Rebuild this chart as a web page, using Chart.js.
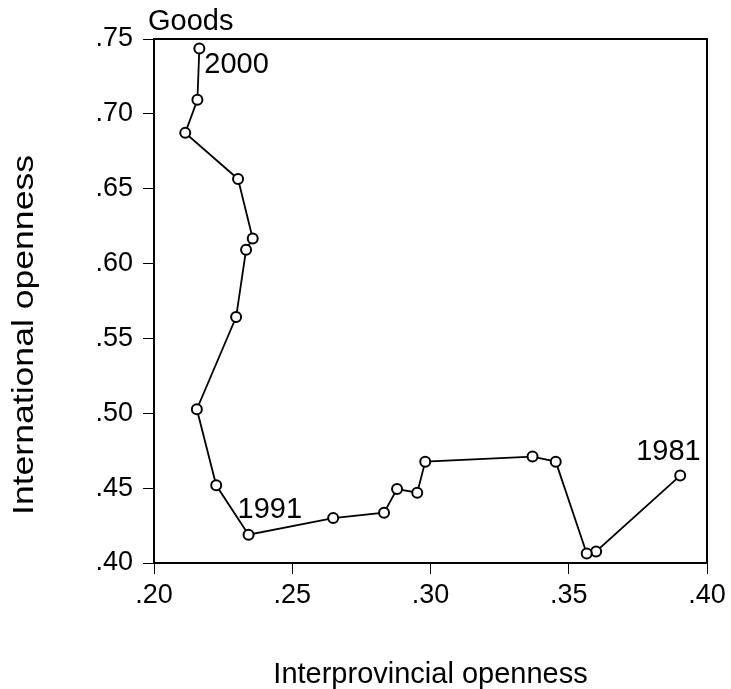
<!DOCTYPE html>
<html>
<head>
<meta charset="utf-8">
<script src="https://cdn.jsdelivr.net/npm/chart.js@4/dist/chart.umd.min.js"></script>
<style>
  html, body { margin: 0; padding: 0; background: #ffffff; }
  #wrap { width: 731px; height: 689px; }
</style>
</head>
<body>
<div id="wrap"><canvas id="c" width="731" height="689"></canvas></div>
<script>
// ---- data ----
const years = ['1981','1982','1983','1984','1985','1986','1987','1988','1989','1990',
               '1991','1992','1993','1994','1995','1996','1997','1998','1999','2000'];
const interprovincial = [0.3903, 0.3599, 0.3565, 0.3453, 0.3369, 0.2981, 0.2952, 0.2879, 0.2832, 0.2648,
                         0.2342, 0.2225, 0.2155, 0.2297, 0.2333, 0.2357, 0.2304, 0.2113, 0.2157, 0.2164];
const international   = [0.4584, 0.4077, 0.4064, 0.4677, 0.4711, 0.4677, 0.4470, 0.4494, 0.4336, 0.4300,
                         0.4189, 0.4519, 0.5027, 0.5643, 0.6092, 0.6167, 0.6565, 0.6873, 0.7094, 0.7437];
const labelledYears = ['1981', '1991', '2000'];
const panelTitle = 'Goods';
const xTitle = 'Interprovincial openness';
const yTitle = 'International openness';
const xTicks = [0.20, 0.25, 0.30, 0.35, 0.40];
const yTicks = [0.40, 0.45, 0.50, 0.55, 0.60, 0.65, 0.70, 0.75];

const FONT = '"Liberation Sans", Arial, Helvetica, sans-serif';
const points = years.map((y, i) => ({ x: interprovincial[i], y: international[i] }));
const fmt = v => v.toFixed(2).replace(/^0/, '');

// frame + annotation plugin
const framePlugin = {
  id: 'frame',
  afterDatasetsDraw(chart) {
    const { ctx, chartArea: a } = chart;
    ctx.save();
    ctx.strokeStyle = '#000';
    ctx.lineWidth = 2;
    ctx.strokeRect(a.left, a.top, a.right - a.left, a.bottom - a.top);
    ctx.fillStyle = '#000';
    ctx.font = '29px ' + FONT;
    ctx.textAlign = 'left';
    ctx.textBaseline = 'alphabetic';
    ctx.fillText(panelTitle, a.left - 6, a.top - 9);
    const meta = chart.getDatasetMeta(0);
    const offs = { '2000': [5, 25], '1991': [-11, -17], '1981': [-44, -16] };
    labelledYears.forEach(yr => {
      const i = years.indexOf(yr);
      const el = meta.data[i];
      const o = offs[yr];
      ctx.fillText(yr, el.x + o[0], el.y + o[1]);
    });
    // vertical axis title (stretched to match the reference's wide lettering)
    ctx.font = '29px ' + FONT;
    const w = ctx.measureText(yTitle).width;
    const target = 360;
    ctx.translate(33, 335);
    ctx.rotate(-Math.PI / 2);
    ctx.scale(target / w, 1);
    ctx.textAlign = 'center';
    ctx.fillText(yTitle, 0, 0);
    ctx.restore();
  }
};

new Chart(document.getElementById('c'), {
  type: 'scatter',
  data: {
    datasets: [{
      label: panelTitle,
      data: points,
      showLine: true,
      borderColor: '#000',
      borderWidth: 1.8,
      pointRadius: 5,
      pointBorderWidth: 2,
      pointBackgroundColor: '#fff',
      pointBorderColor: '#000',
      tension: 0,
      clip: false
    }]
  },
  options: {
    responsive: false,
    animation: false,
    devicePixelRatio: 1,
    layout: { padding: { top: 39, right: 24, bottom: 0, left: 0 } },
    plugins: { legend: { display: false }, tooltip: { enabled: false }, title: { display: false } },
    scales: {
      x: {
        type: 'linear',
        min: 0.20, max: 0.40,
        afterBuildTicks: s => { s.ticks = xTicks.map(v => ({ value: v })); },
        afterFit: s => { s.height = 126; },
        ticks: { color: '#000', font: { family: FONT, size: 27 }, padding: 5, callback: v => fmt(v) },
        grid: { display: true, drawOnChartArea: false, drawTicks: true, tickLength: 11, tickColor: '#000', tickWidth: 1 },
        border: { display: true, color: '#000', width: 2 },
        title: { display: true, text: xTitle, color: '#000', font: { family: FONT, size: 29, lineHeight: 1 }, padding: 0 }
      },
      y: {
        type: 'linear',
        min: 0.40, max: 0.75,
        afterBuildTicks: s => { s.ticks = yTicks.map(v => ({ value: v })); },
        afterFit: s => { s.width = 154; },
        ticks: { color: '#000', font: { family: FONT, size: 27 }, padding: 10, callback: v => fmt(v) },
        grid: { display: true, drawOnChartArea: false, drawTicks: true, tickLength: 11, tickColor: '#000', tickWidth: 1 },
        border: { display: true, color: '#000', width: 2 },
        title: { display: false, text: yTitle }
      }
    }
  },
  plugins: [framePlugin]
});
</script>
</body>
</html>
